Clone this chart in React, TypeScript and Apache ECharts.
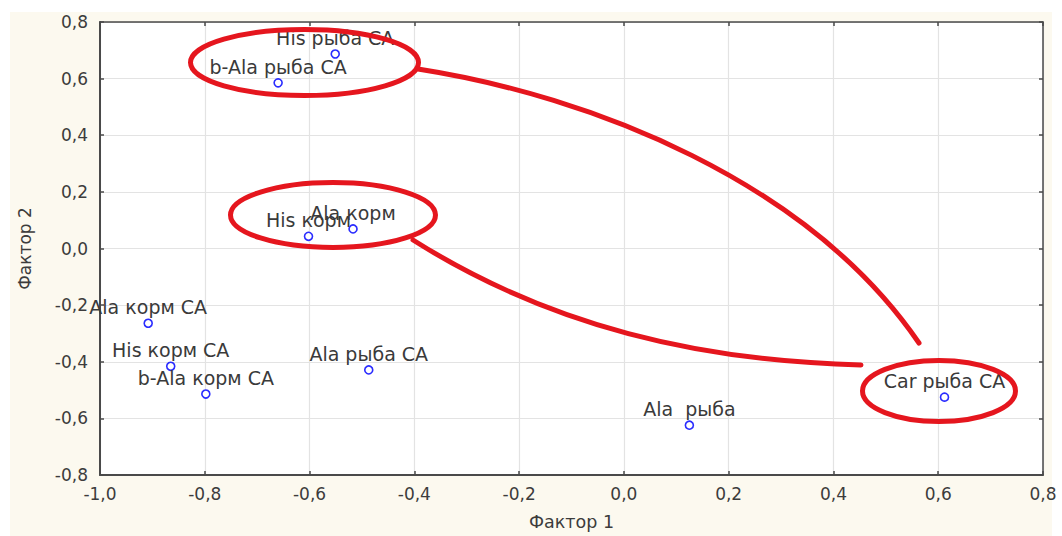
import React, { useEffect, useRef } from "react";
import * as echarts from "echarts";

const pointNames = [
  "His рыба CA",
  "b-Ala рыба CA",
  "His корм",
  "Ala корм",
  "Ala корм CA",
  "His корм CA",
  "b-Ala корм CA",
  "Ala рыба CA",
  "Ala  рыба",
  "Car рыба CA",
];
const factor1 = [-0.551, -0.66, -0.602, -0.517, -0.908, -0.865, -0.798, -0.487, 0.125, 0.612];
const factor2 = [0.687, 0.585, 0.043, 0.069, -0.264, -0.416, -0.514, -0.429, -0.624, -0.525];

const xTitle = "Фактор 1";
const yTitle = "Фактор 2";

const FONT = "DejaVu Sans";
const RED = "#e5161e";

const fmt = (v: number) => (Math.abs(v) < 1e-9 ? "0,0" : v.toFixed(1).replace(".", ","));

export default function App() {
  const ref = useRef<HTMLDivElement>(null);

  useEffect(() => {
    if (!ref.current) return;
    const chart = echarts.init(ref.current, undefined, { renderer: "svg" });

    const axisLineStyle = { color: "#4a4a4a", width: 2 };
    const tick = { show: true, inside: true, length: 4, lineStyle: { color: "#4a4a4a", width: 1.5 } };
    const split = { show: true, lineStyle: { color: "#e3e3e3", width: 1.2 } };
    const labelStyle = { color: "#3c3c3c", fontSize: 17, fontFamily: FONT, formatter: fmt };

    const annot = { fill: "none", stroke: RED, lineWidth: 5, lineCap: "round" };

    chart.setOption({
      animation: false,
      backgroundColor: "transparent",
      grid: {
        left: 100,
        right: 19,
        top: 22,
        bottom: 57,
        show: true,
        backgroundColor: "#ffffff",
        borderWidth: 0,
      },
      xAxis: [
        {
          type: "value",
          min: -1,
          max: 0.8,
          interval: 0.2,
          position: "bottom",
          axisLine: { show: true, onZero: false, lineStyle: axisLineStyle },
          axisTick: tick,
          axisLabel: { ...labelStyle, margin: 10 },
          splitLine: split,
          name: xTitle,
          nameLocation: "middle",
          nameGap: 38,
          nameTextStyle: { color: "#3c3c3c", fontSize: 17.5, fontFamily: FONT },
        },
        {
          type: "value",
          min: -1,
          max: 0.8,
          interval: 0.2,
          position: "top",
          axisLine: { show: true, onZero: false, lineStyle: { color: "#4a4a4a", width: 1.5 } },
          axisTick: tick,
          axisLabel: { show: false },
          splitLine: { show: false },
        },
      ],
      yAxis: [
        {
          type: "value",
          min: -0.8,
          max: 0.8,
          interval: 0.2,
          position: "left",
          axisLine: { show: true, onZero: false, lineStyle: axisLineStyle },
          axisTick: tick,
          axisLabel: { ...labelStyle, margin: 12 },
          splitLine: split,
          name: yTitle,
          nameLocation: "middle",
          nameGap: 67,
          nameTextStyle: { color: "#3c3c3c", fontSize: 17, fontFamily: FONT },
        },
        {
          type: "value",
          min: -0.8,
          max: 0.8,
          interval: 0.2,
          position: "right",
          axisLine: { show: true, onZero: false, lineStyle: { color: "#4a4a4a", width: 1.5 } },
          axisTick: tick,
          axisLabel: { show: false },
          splitLine: { show: false },
        },
      ],
      series: [
        {
          type: "scatter",
          xAxisIndex: 0,
          yAxisIndex: 0,
          symbol: "circle",
          symbolSize: 8,
          itemStyle: { color: "#ffffff", borderColor: "#2a2cff", borderWidth: 1.6, opacity: 1 },
          label: {
            show: true,
            position: "top",
            distance: 2,
            color: "#3a3a3a",
            fontSize: 19,
            fontFamily: FONT,
            formatter: (p: any) => p.data[2],
          },
          data: pointNames.map((n, i) => [factor1[i], factor2[i], n]),
          z: 3,
        },
      ],
      graphic: [
        { type: "ellipse", shape: { cx: 304.5, cy: 62.5, rx: 114, ry: 33 }, style: annot, z: 100 },
        { type: "ellipse", shape: { cx: 333, cy: 215, rx: 102.5, ry: 32.5 }, style: annot, z: 100 },
        { type: "ellipse", shape: { cx: 939, cy: 391, rx: 76.5, ry: 30.5 }, style: annot, z: 100 },
        {
          type: "bezierCurve",
          shape: { x1: 418, y1: 69, cpx1: 591, cpy1: 96, cpx2: 808, cpy2: 181, x2: 919, y2: 343 },
          style: annot,
          z: 100,
        },
        {
          type: "bezierCurve",
          shape: { x1: 413, y1: 240, cpx1: 551, cpy1: 327, cpx2: 700, cpy2: 361, x2: 861, y2: 365 },
          style: annot,
          z: 100,
        },
      ],
    });

    return () => chart.dispose();
  }, []);

  return (
    <div style={{ position: "absolute", left: 0, top: 0, width: 1062, height: 536, background: "#ffffff" }}>
      <div
        style={{ position: "absolute", left: 10, top: 12, width: 1042, height: 524, background: "#fcf9ef" }}
      />
      <div ref={ref} style={{ position: "absolute", left: 0, top: 0, width: 1062, height: 536 }} />
    </div>
  );
}
